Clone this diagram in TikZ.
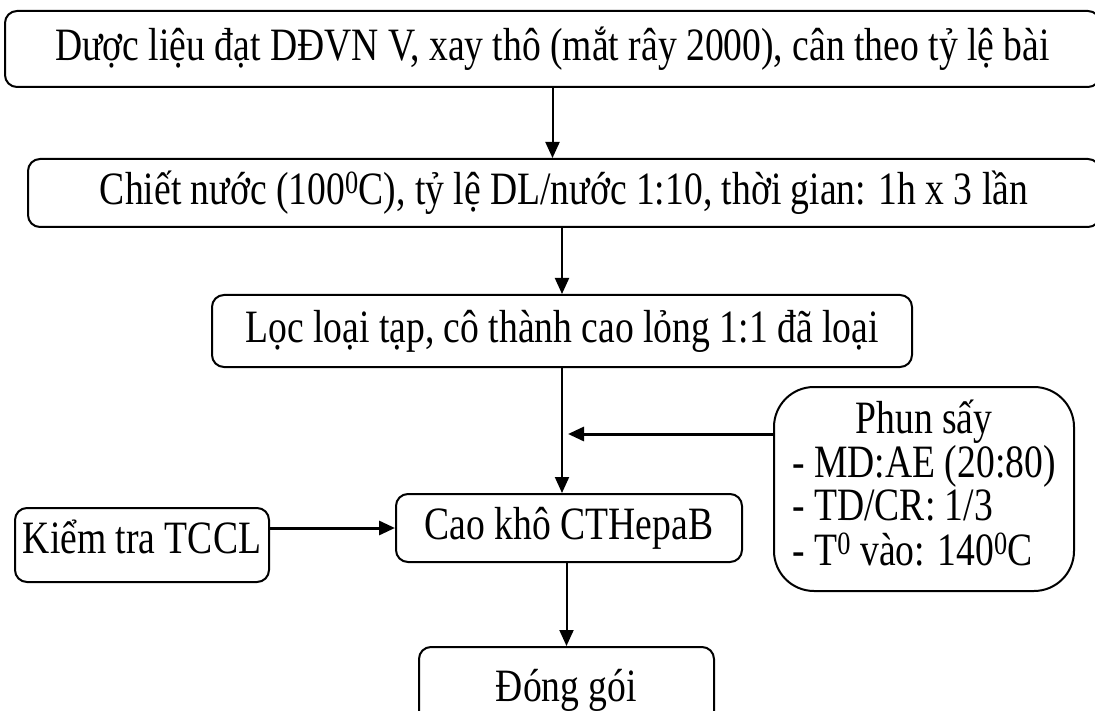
\documentclass[tikz,border=0pt]{standalone}
\usepackage{fontspec}
\usepackage{graphicx}
\setmainfont{Liberation Serif}
\usetikzlibrary{arrows.meta}
\newcommand\tallt[1]{\scalebox{0.99}[1.22]{#1}}
\begin{document}
\begin{tikzpicture}[x=1pt,y=-1pt,line width=2pt,
	font=\fontsize{38}{34}\selectfont,
	box/.style={draw,rounded corners=12pt,inner sep=0pt},
	arr/.style={-{Triangle[length=16pt,width=14pt]}},
	side/.style={arr,line width=3pt}]
	\useasboundingbox (0,0) rectangle (1095,711);
	\node [box,minimum width=1095,minimum height=76] (raw) at (552.5,49)
	  {\tallt{Dược liệu đạt DĐVN V, xay thô (mắt rây 2000), cân theo tỷ lệ bài}};
	\node [box,minimum width=1072,minimum height=68] (extract) at (564,193)
	  {\tallt{Chiết nước (100\textsuperscript{0}C), tỷ lệ DL/nước 1:10, thời gian: 1h x 3 lần}};
	\node [box,minimum width=700,minimum height=72] (loc) at (562,331)
	  {\tallt{Lọc loại tạp, cô thành cao lỏng 1:1 đã loại}};
	\node [box,rounded corners=40pt,minimum width=300,minimum height=204] (spray) at (924,489)
	  {\tallt{\begin{tabular}{@{}l@{}}
	    \multicolumn{1}{@{}c@{}}{Phun sấy}\\
	    - MD:AE (20:80)\\
	    - TD/CR: 1/3\\
	    - T\textsuperscript{0} vào: 140\textsuperscript{0}C
	  \end{tabular}}};
	\node [box,minimum width=346,minimum height=68] (dry) at (569,528)
	  {\tallt{Cao khô CTHepaB}};
	\node [box,minimum width=254,minimum height=74,text depth=16pt] (check) at (142,545)
	  {\tallt{Kiểm tra TCCL}};
	\node [box,minimum width=295,minimum height=86] (pack) at (566.5,690)
	  {\tallt{Đóng gói}};
	\coordinate (merge) at (568,434);
	\draw [arr] (raw.south) -- (raw.south |- extract.north);
	\draw [arr] (loc.north |- extract.south) -- (loc.north);
	\draw [arr] (loc.south) -- (loc.south |- dry.north);
	\draw [side] (spray.west |- merge) -- (merge);
	\draw [side] (check.east |- dry.west) -- (dry.west);
	\draw [arr] (pack.north |- dry.south) -- (pack.north);
\end{tikzpicture}
\end{document}
